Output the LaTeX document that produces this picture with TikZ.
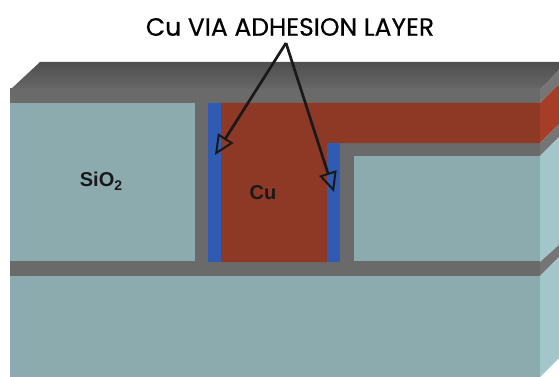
\documentclass[tikz,border=0pt]{standalone}
\usepackage{fontspec}
\setmainfont{Liberation Sans}
\newfontfamily\titlefont[FakeBold=0.4]{Poppins}
\usepackage{tikz}
\usetikzlibrary{arrows.meta}

\definecolor{oxideC}{HTML}{8CABAE}
\definecolor{oxideside}{HTML}{A3C6CB}
\definecolor{barrierC}{HTML}{6A6A6A}
\definecolor{barriertop}{HTML}{4F4F4F}
\definecolor{barrierside}{HTML}{757575}
\definecolor{copperC}{HTML}{8E3826}
\definecolor{copperside}{HTML}{A63E27}
\definecolor{adhesionC}{HTML}{2F5CB2}

\newcommand{\lowtwo}{\raisebox{-4pt}{\fontsize{14}{14}\selectfont 2}}

\begin{document}
\begin{tikzpicture}[
  x=1pt, y=-1pt,
  oxide/.style={fill=oxideC},
  sideoxide/.style={fill=oxideside},
  barrier/.style={fill=barrierC},
  copper/.style={fill=copperC},
  adhesion/.style={fill=adhesionC},
  tag/.style={font=\fontsize{20}{22}\selectfont\bfseries, text=black!90},
  arrow/.style={-{Triangle[open, length=20pt, width=18pt, line width=2pt]}, line width=2.7pt, black!90}
]
\useasboundingbox (0,0) rectangle (559,377);

%% Top and side faces
\shade[top color=barriertop, bottom color=barrierC!90!barriertop] (10,90) -- (40,62) -- (559,62) -- (559,70) -- (540,90) -- cycle;
\fill[barrierside] (540,90) -- (559,70) -- (559,84) -- (540,103) -- cycle;
\fill[copperside] (540,103) -- (559,84) -- (559,124) -- (540,143) -- cycle;
\fill[barrierside] (540,143) -- (559,124) -- (559,137) -- (540,156) -- cycle;
\fill[sideoxide] (540,156) -- (559,137) -- (559,245) -- (540,262) -- cycle;
\fill[barrierside] (540,262) -- (559,245) -- (559,257) -- (540,276) -- cycle;
\fill[sideoxide] (540,276) -- (559,257) -- (559,358) -- (540,377) -- cycle;

%% Front face
\fill[barrier] (10,88) rectangle (540,276);
\fill[oxide] (10,103) rectangle (195,261);
\fill[oxide] (354,156) rectangle (540,261);
\fill[oxide] (10,276) rectangle (540,377);

%% Via
\fill[copper] (221,103) -- (540,103) -- (540,143) -- (327,143) -- (327,262) -- (221,262) -- cycle;
\fill[adhesion] (208,103) rectangle (221,262);
\fill[adhesion] (327,143) rectangle (340,262);

%% Labels
\node[tag] (oxidelabel) at (101,181) {SiO\lowtwo};
\node[tag] (copperlabel) at (263,193) {Cu};
\node[font=\fontsize{25}{27}\selectfont\titlefont, text=black] (title) at (290,27) {Cu VIA ADHESION LAYER};

%% Arrows
\coordinate (apex) at (286,43);
\coordinate (lefttip) at (215,155);
\coordinate (righttip) at (334,192);
\draw[arrow] (apex) -- (lefttip);
\draw[arrow] (apex) -- (righttip);
\end{tikzpicture}
\end{document}
